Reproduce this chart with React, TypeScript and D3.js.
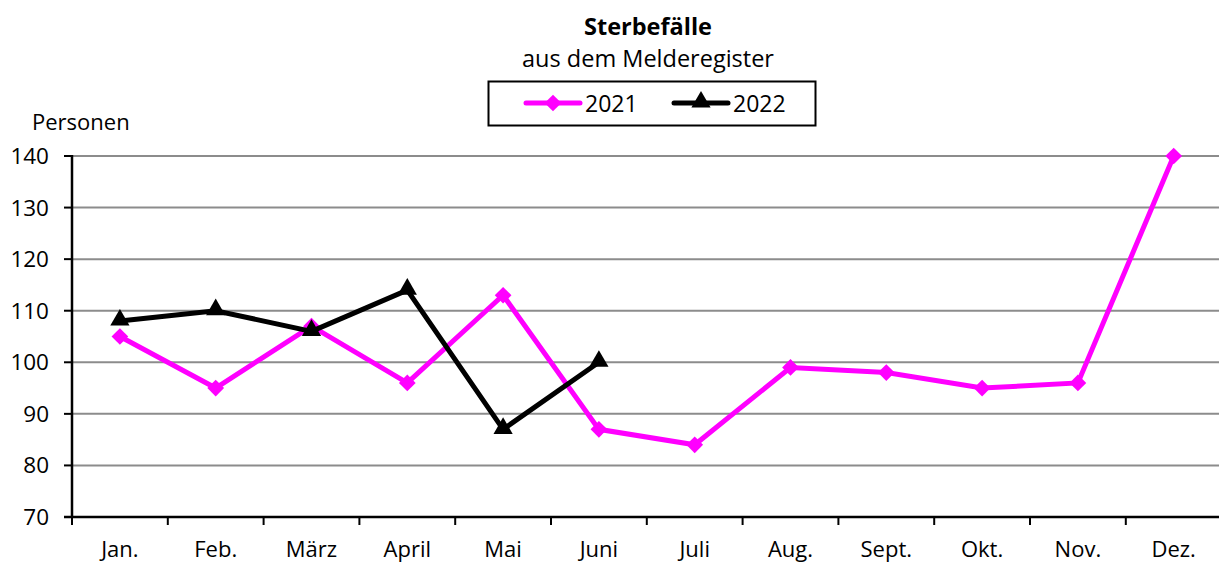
import React from "react";
import * as d3 from "d3";

const months = ["Jan.", "Feb.", "März", "April", "Mai", "Juni", "Juli", "Aug.", "Sept.", "Okt.", "Nov.", "Dez."];
const values2021 = [105, 95, 107, 96, 113, 87, 84, 99, 98, 95, 96, 140];
const values2022 = [108, 110, 106, 114, 87, 100];
const yTicks = [70, 80, 90, 100, 110, 120, 130, 140];

const W = 1219;
const H = 562;
const FONT = "'Open Sans', sans-serif";

export default function App() {
  const left = 72;
  const bandW = 95.8;
  const x = d3.scaleBand<string>().domain(months).range([left, left + bandW * 12]).padding(0);
  const y = d3.scaleLinear().domain([70, 140]).range([517, 156]);
  const cx = (m: string) => (x(m) as number) + x.bandwidth() / 2;

  const line = d3.line<[number, number]>().x((d) => d[0]).y((d) => d[1]);
  const pts2021: [number, number][] = values2021.map((v, i) => [cx(months[i]), y(v)]);
  const pts2022: [number, number][] = values2022.map((v, i) => [cx(months[i]), y(v)]);

  const diamond = d3.symbol().type(d3.symbolSquare).size(140);
  const tri = d3.symbol().type(d3.symbolTriangle).size(160);

  return (
    <svg width={W} height={H} style={{ position: "absolute", left: 0, top: 0 }}>
      <rect width={W} height={H} fill="#fff" />
      <text x={648} y={35} textAnchor="middle" fontFamily={FONT} fontWeight="bold" fontSize={23.5}>Sterbefälle</text>
      <text x={648} y={67} textAnchor="middle" fontFamily={FONT} fontSize={23.5}>aus dem Melderegister</text>
      {/* legend */}
      <rect x={488.5} y={81.5} width={327} height={44} fill="#fff" stroke="#000" strokeWidth={2} />
      <line x1={526} x2={580} y1={103} y2={103} stroke="#ff00ff" strokeWidth={5} strokeLinecap="round" />
      <path d={diamond() as string} transform={`translate(553,103) rotate(45)`} fill="#ff00ff" />
      <text x={585} y={112} fontFamily={FONT} fontSize={23}>2021</text>
      <line x1={674} x2={728} y1={103} y2={103} stroke="#000" strokeWidth={5} strokeLinecap="round" />
      <path d={tri() as string} transform={`translate(701,102)`} fill="#000" />
      <text x={733} y={112} fontFamily={FONT} fontSize={23}>2022</text>

      <text x={32} y={130} fontFamily={FONT} fontSize={22}>Personen</text>

      {yTicks.map((t) => (
        <g key={t}>
          {t > 70 && <line x1={left} x2={W} y1={y(t)} y2={y(t)} stroke="#8c8c8c" strokeWidth={2} />}
          <line x1={left - 8} x2={left} y1={y(t)} y2={y(t)} stroke="#000" strokeWidth={2} />
          <text x={49} y={y(t) + 8} textAnchor="end" fontFamily={FONT} fontSize={22.5}>{t}</text>
        </g>
      ))}
      <line x1={left} x2={left} y1={155} y2={518} stroke="#000" strokeWidth={2.5} />
      <line x1={left - 8} x2={W} y1={y(70)} y2={y(70)} stroke="#000" strokeWidth={2.5} />
      {months.map((m, i) => (
        <g key={m}>
          <line x1={x(m) as number} x2={x(m) as number} y1={517} y2={525} stroke="#000" strokeWidth={2} />
          <text x={cx(m)} y={557} textAnchor="middle" fontFamily={FONT} fontSize={22}>{m}</text>
        </g>
      ))}

      <path d={line(pts2021) as string} fill="none" stroke="#ff00ff" strokeWidth={5} strokeLinejoin="miter" />
      {pts2021.map((p, i) => (
        <path key={i} d={diamond() as string} transform={`translate(${p[0]},${p[1]}) rotate(45)`} fill="#ff00ff" />
      ))}
      <path d={line(pts2022) as string} fill="none" stroke="#000" strokeWidth={5} strokeLinejoin="miter" />
      {pts2022.map((p, i) => (
        <path key={i} d={tri() as string} transform={`translate(${p[0]},${p[1] - 1})`} fill="#000" />
      ))}
    </svg>
  );
}
